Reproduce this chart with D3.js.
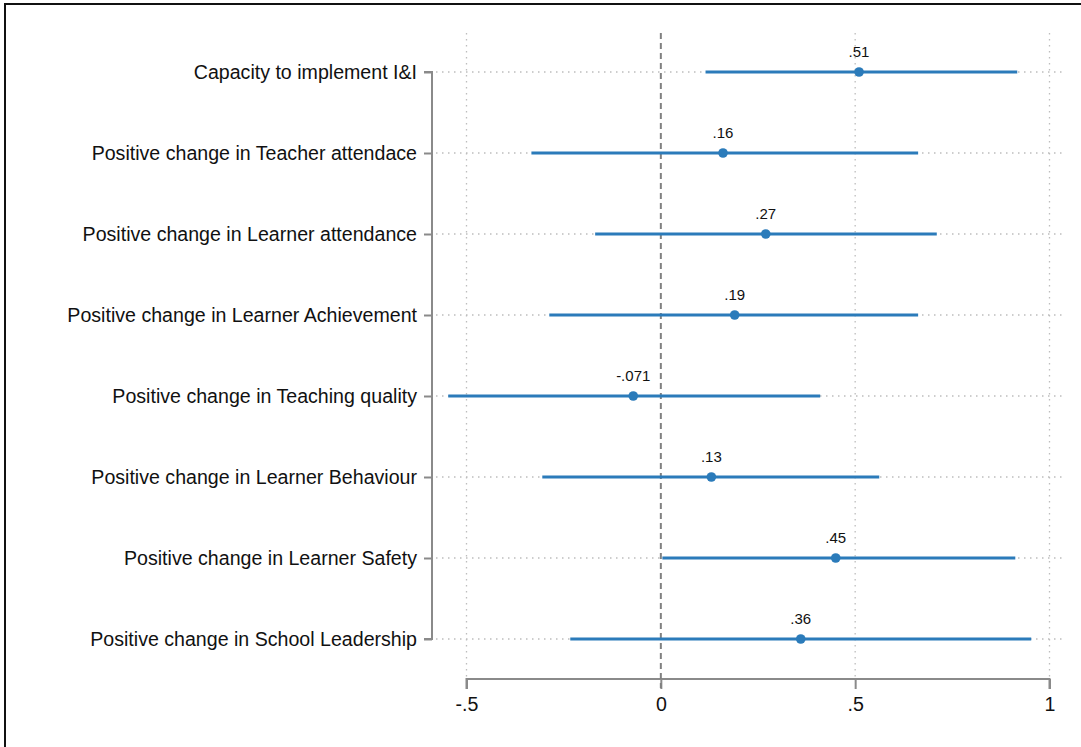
<!DOCTYPE html>
<html>
<head>
<meta charset="utf-8">
<script src="https://cdn.jsdelivr.net/npm/d3@7"></script>
<style>
  html, body { margin: 0; padding: 0; background: #fff; }
  svg { display: block; font-family: "Liberation Sans", Arial, sans-serif; }
</style>
</head>
<body>
<svg id="chart" width="1081" height="747"></svg>
<script>
// Outcomes, point estimates and 95% confidence bounds
const outcomes = [
  "Capacity to implement I&I",
  "Positive change in Teacher attendace",
  "Positive change in Learner attendance",
  "Positive change in Learner Achievement",
  "Positive change in Teaching quality",
  "Positive change in Learner Behaviour",
  "Positive change in Learner Safety",
  "Positive change in School Leadership"
];
const estimates = [0.51, 0.16, 0.27, 0.19, -0.071, 0.13, 0.45, 0.36];
const lowerCI   = [0.115, -0.333, -0.169, -0.287, -0.547, -0.305, 0.004, -0.233];
const upperCI   = [0.917, 0.662, 0.71, 0.662, 0.41, 0.562, 0.912, 0.953];
const xTicks    = [-0.5, 0, 0.5, 1];
const xTickLabels = ["-.5", "0", ".5", "1"];

const rows = outcomes.map((name, i) => ({
  name, est: estimates[i], lo: lowerCI[i], hi: upperCI[i]
}));

const svg = d3.select("#chart");
const blue = "#2b7bba";
const axisGray = "#8a8a8a";
const gridGray = "#bdbdbd";
const textColor = "#111";

// outer frame (only top and left edges fall inside the page)
svg.append("rect")
  .attr("x", 5).attr("y", 4)
  .attr("width", 1200).attr("height", 900)
  .attr("fill", "none").attr("stroke", "#111").attr("stroke-width", 2);

const x = d3.scaleLinear().domain([-0.5, 1]).range([466.5, 1049.5]);
const y = d3.scalePoint().domain(outcomes).range([72, 639]);

const plotTop = 33, plotBottom = 678;

// vertical dotted grid lines
svg.append("g").selectAll("line")
  .data(xTicks.filter(t => t !== 0))
  .join("line")
  .attr("x1", d => x(d)).attr("x2", d => x(d))
  .attr("y1", plotTop).attr("y2", plotBottom)
  .attr("stroke", gridGray).attr("stroke-width", 1.3)
  .attr("stroke-dasharray", "1.5,4.5");

// horizontal dotted grid lines
svg.append("g").selectAll("line")
  .data(outcomes)
  .join("line")
  .attr("x1", 436).attr("x2", 1063)
  .attr("y1", d => y(d)).attr("y2", d => y(d))
  .attr("stroke", gridGray).attr("stroke-width", 1.3)
  .attr("stroke-dasharray", "1.5,4.5");

// y axis (left) with tick labels
const yAxis = d3.axisLeft(y).tickSize(8).tickPadding(7);
const gy = svg.append("g").attr("transform", "translate(432,0)").call(yAxis);
gy.select(".domain").attr("stroke", axisGray).attr("stroke-width", 2)
  .attr("d", `M-8,${y(outcomes[0])}H0V${y(outcomes[outcomes.length-1])}H-8`);
gy.selectAll(".tick line").attr("stroke", axisGray).attr("stroke-width", 2);
gy.selectAll(".tick text")
  .attr("font-size", 19.6).attr("fill", textColor)
  .attr("font-family", "'Liberation Sans', Arial, sans-serif");

// x axis (bottom)
const xAxis = d3.axisBottom(x).tickValues(xTicks)
  .tickFormat((d, i) => xTickLabels[i]).tickSize(10).tickPadding(8);
const gx = svg.append("g").attr("transform", `translate(0,${plotBottom + 1})`).call(xAxis);
gx.select(".domain").attr("stroke", axisGray).attr("stroke-width", 2)
  .attr("d", `M${x(-0.5)},10V0H${x(1)}V10`);
gx.selectAll(".tick line").attr("stroke", axisGray).attr("stroke-width", 2);
gx.selectAll(".tick text")
  .attr("font-size", 19.6).attr("fill", textColor)
  .attr("font-family", "'Liberation Sans', Arial, sans-serif");

// reference line at zero
svg.append("line")
  .attr("x1", x(0)).attr("x2", x(0))
  .attr("y1", plotTop).attr("y2", plotBottom + 10)
  .attr("stroke", "#808080").attr("stroke-width", 2)
  .attr("stroke-dasharray", "6,4");

// confidence intervals
svg.append("g").selectAll("line")
  .data(rows)
  .join("line")
  .attr("x1", d => x(d.lo)).attr("x2", d => x(d.hi))
  .attr("y1", d => y(d.name)).attr("y2", d => y(d.name))
  .attr("stroke", blue).attr("stroke-width", 3);

// point estimates
svg.append("g").selectAll("circle")
  .data(rows)
  .join("circle")
  .attr("cx", d => x(d.est)).attr("cy", d => y(d.name))
  .attr("r", 4.8).attr("fill", blue);

// value labels above the points, Stata-style without the leading zero
const fmt = v => String(v).replace(/^(-?)0\./, "$1.");
svg.append("g").selectAll("text")
  .data(rows)
  .join("text")
  .attr("x", d => x(d.est)).attr("y", d => y(d.name) - 15)
  .attr("text-anchor", "middle")
  .attr("font-size", 15).attr("fill", textColor)
  .text(d => fmt(d.est));
</script>
</body>
</html>
